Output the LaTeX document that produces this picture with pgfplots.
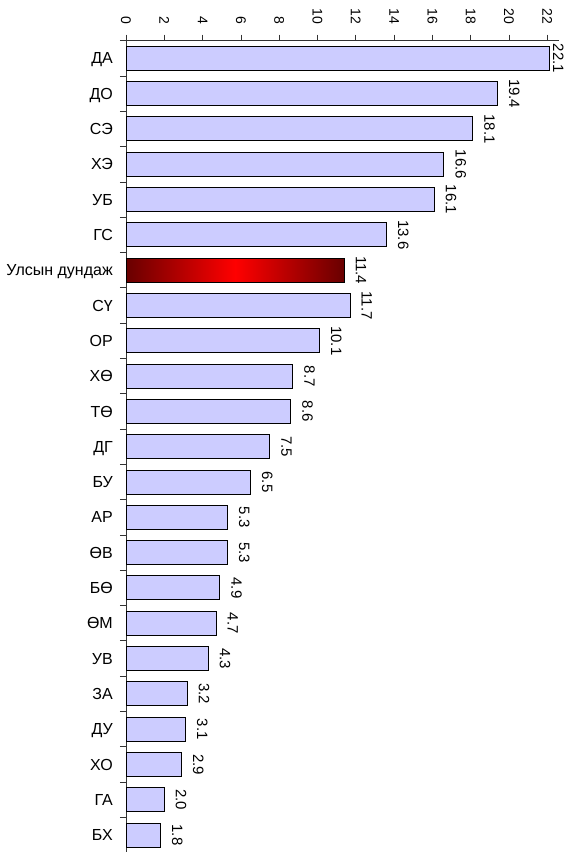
\documentclass[border=0pt]{standalone}
\usepackage{fontspec}
\setmainfont{Liberation Sans}
\usepackage{pgfplots}
\pgfplotsset{compat=1.18}

\definecolor{barblue}{RGB}{204,204,255}
\definecolor{darkred}{RGB}{104,0,0}

\newcommand\lblfont{\fontsize{15}{17}\selectfont}
\newcommand\catfont{\fontsize{16}{18}\selectfont}

\begin{document}
\begin{tikzpicture}
\begin{axis}[
    at={(126pt,-40.7pt)}, anchor=north west,
    scale only axis, width=432.8pt, height=812pt,
    xmin=0, xmax=22.6, ymin=-0.5, ymax=22.5,
    y dir=reverse,
    clip=false,
    axis x line*=top, axis y line*=left,
    axis line style={black!80, line width=0.8pt},
    tick style={black!80, line width=0.8pt},
    tick align=outside,
    major tick length=6pt,
    xtick={0,2,...,22},
    ytick={-0.5,0.5,...,22.5},
    yticklabels={},
    extra y ticks={0,...,22},
    extra y tick labels={ДА,ДО,СЭ,ХЭ,УБ,ГС,Улсын дундаж,СҮ,ОР,ХӨ,ТӨ,ДГ,БУ,АР,ӨВ,БӨ,ӨМ,УВ,ЗА,ДУ,ХО,ГА,БХ},
    extra y tick style={major tick length=0pt},
    /pgf/number format/assume math mode=true,
    xticklabel shift=10pt,
    xticklabel style={rotate=-90, anchor=east, inner sep=0pt, font=\fontsize{14}{16}\selectfont},
    yticklabel style={anchor=base east, inner sep=0pt, xshift=-13pt, yshift=-5.6pt, font=\catfont},
    nodes near coords={\pgfmathprintnumber[fixed,fixed zerofill,precision=1,assume math mode=true]{\pgfplotspointmeta}},
    point meta=x,
    bar width=0.68,
]
% regular bars
\addplot[xbar, bar shift=0pt, fill=barblue, draw=black, line width=1pt,
    nodes near coords style={rotate=-90, anchor=south, inner xsep=0pt, inner ysep=11pt, font=\lblfont}]
    coordinates {
    (19.4,1) (18.1,2) (16.6,3) (16.1,4) (13.6,5)
    (11.7,7) (10.1,8) (8.7,9) (8.6,10) (7.5,11) (6.5,12)
    (5.3,13) (5.3,14) (4.9,15) (4.7,16) (4.3,17) (3.2,18)
    (3.1,19) (2.9,20) (2.0,21) (1.8,22)
    };
% top bar, label squeezed in
\addplot[xbar, bar shift=0pt, fill=barblue, draw=black, line width=1pt,
    nodes near coords style={rotate=-90, anchor=south, inner xsep=0pt, inner ysep=3.5pt, font=\lblfont}]
    coordinates {(22.1,0)};
% national average
\addplot[xbar, bar shift=0pt, draw=black, line width=1pt,
    left color=darkred, right color=darkred, middle color=red,
    nodes near coords style={rotate=-90, anchor=south, inner xsep=0pt, inner ysep=11pt, font=\lblfont}]
    coordinates {(11.4,6)};
\end{axis}
\pgfresetboundingbox
\path[use as bounding box] (0,0) rectangle (571pt,-852pt);
\end{tikzpicture}
\end{document}
